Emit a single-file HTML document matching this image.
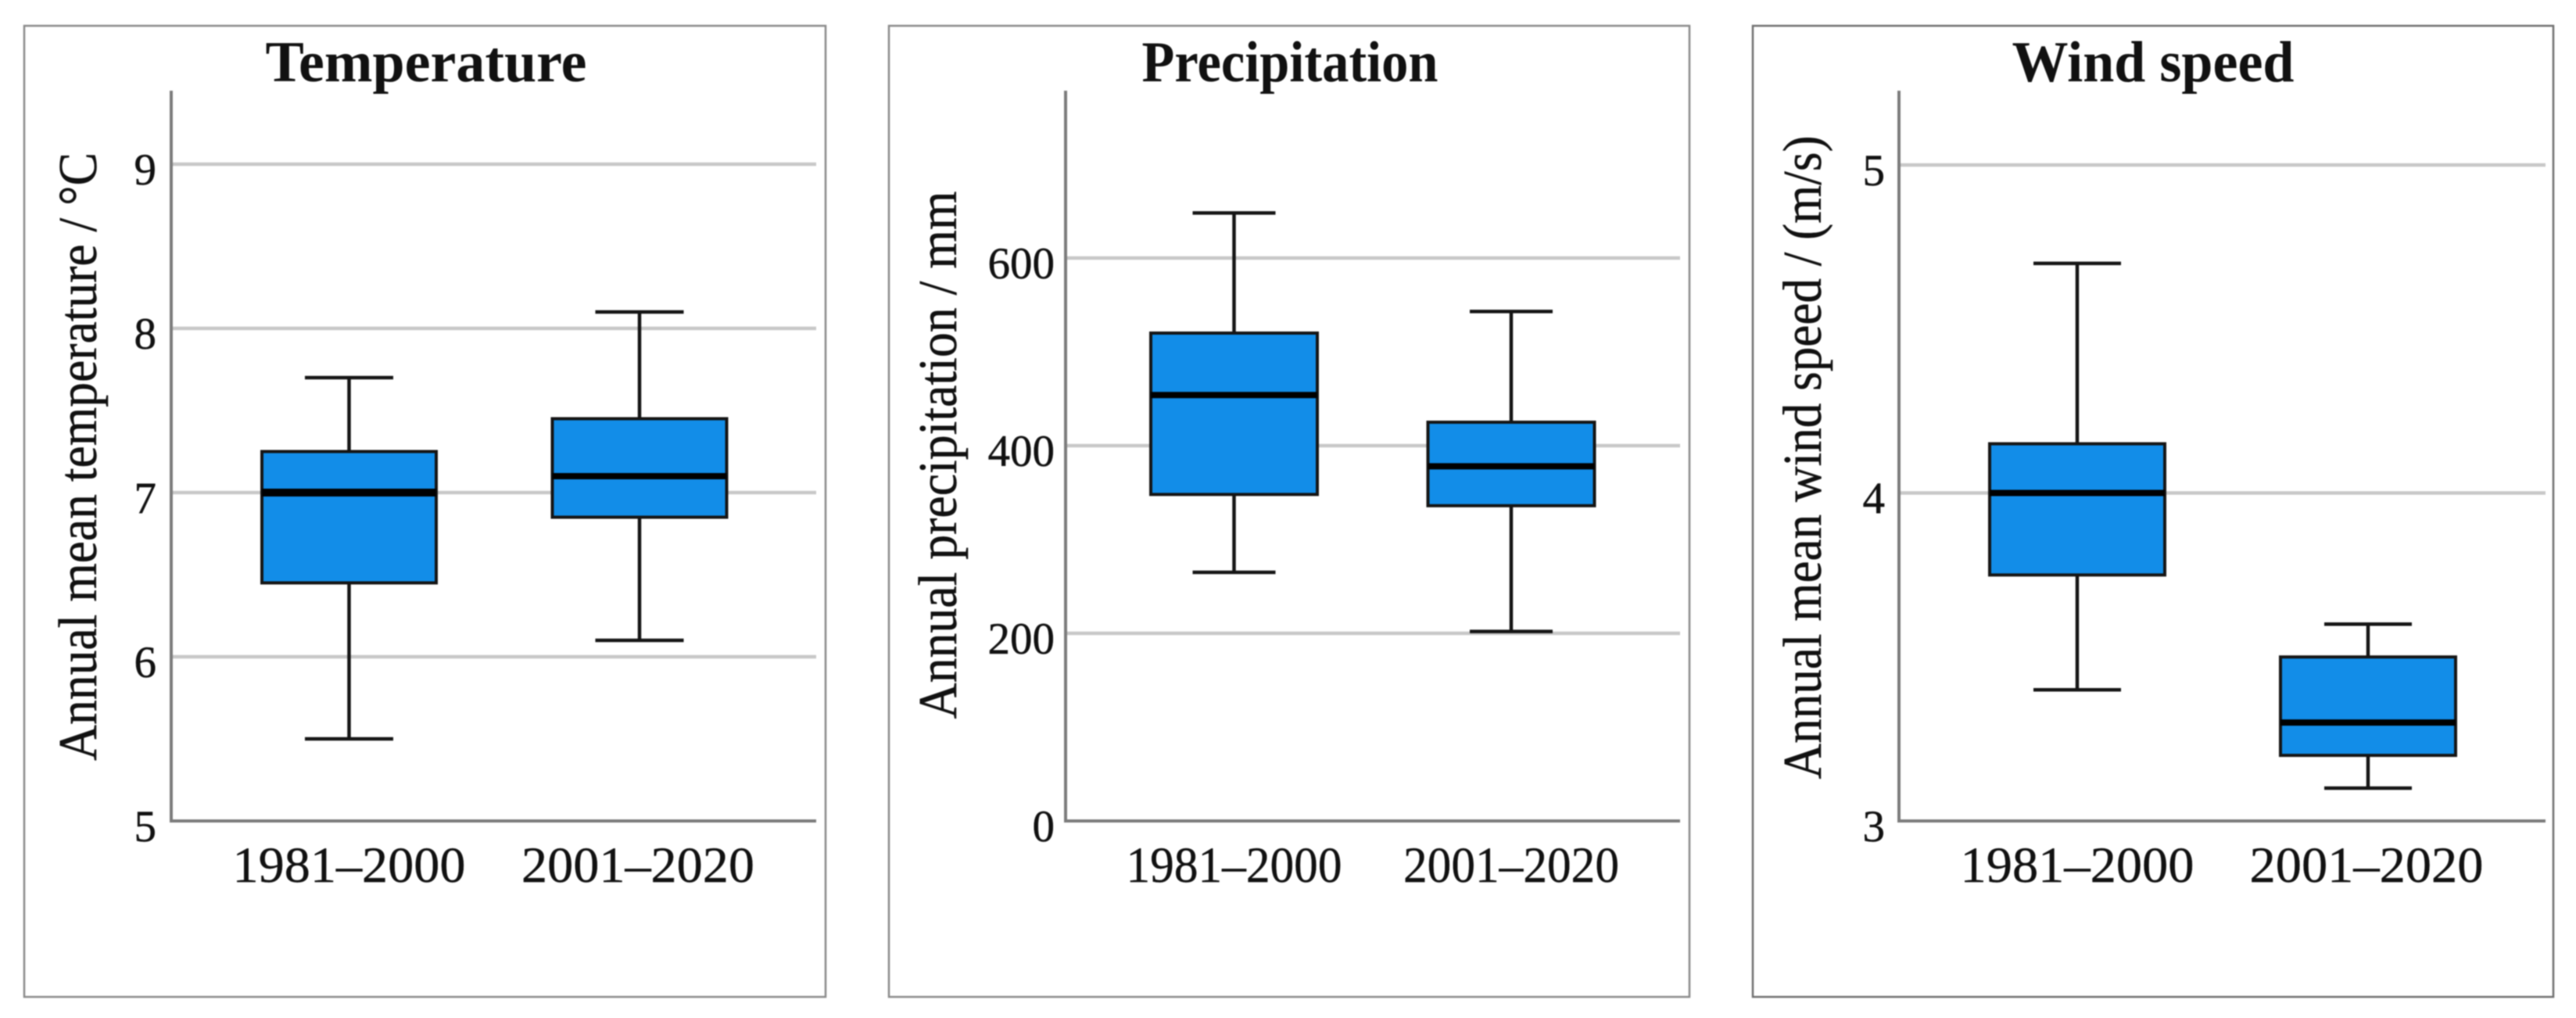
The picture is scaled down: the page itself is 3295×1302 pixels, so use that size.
<!DOCTYPE html>
<html lang="en">
<head>
<meta charset="utf-8">
<title>Temperature, precipitation and wind speed box plots</title>
<style>
  html, body { margin: 0; padding: 0; background: #fff; }
  body { width: 3295px; height: 1302px; overflow: hidden; }
  svg { display: block; filter: blur(0.7px); }
  text { font-family: "Liberation Serif", serif; fill: #111111; }
  .title { font-weight: bold; font-size: 74px; }
  .ylab { font-size: 70px; stroke: #111111; stroke-width: 0.5px; }
  .tick { font-size: 57px; stroke: #111111; stroke-width: 0.5px; }
  .cat { font-size: 65px; stroke: #111111; stroke-width: 0.4px; }
</style>
</head>
<body>
<svg id="figure" width="3295" height="1302" viewBox="0 0 3295 1302" xmlns="http://www.w3.org/2000/svg">
  <rect width="3295" height="1302" fill="#ffffff"/>

  <g id="panel-temp">
    <rect x="31" y="33" width="1025" height="1242" fill="#fff" stroke="#8a8a8a" stroke-width="2.5"/>
    <text class="title" x="545" y="104" text-anchor="middle" textLength="411" lengthAdjust="spacingAndGlyphs">Temperature</text>
    <text class="ylab" transform="translate(123,584) rotate(-90)" text-anchor="middle" textLength="778" lengthAdjust="spacingAndGlyphs">Annual mean temperature / °C</text>
  </g>

  <g id="panel-prec">
    <rect x="1137" y="33" width="1024" height="1242" fill="#fff" stroke="#8a8a8a" stroke-width="2.5"/>
    <text class="title" x="1650" y="104" text-anchor="middle" textLength="379" lengthAdjust="spacingAndGlyphs">Precipitation</text>
    <text class="ylab" transform="translate(1223,582) rotate(-90)" text-anchor="middle" textLength="675" lengthAdjust="spacingAndGlyphs">Annual precipitation / mm</text>
  </g>

  <g id="panel-wind">
    <rect x="2242" y="33" width="1024" height="1242" fill="#fff" stroke="#6f6f6f" stroke-width="2.5"/>
    <text class="title" x="2754" y="104" text-anchor="middle" textLength="361" lengthAdjust="spacingAndGlyphs">Wind speed</text>
    <text class="ylab" transform="translate(2329,585) rotate(-90)" text-anchor="middle" textLength="823" lengthAdjust="spacingAndGlyphs">Annual mean wind speed / (m/s)</text>
  </g>
</svg>

<script>
// ---- chart data ----
const periods = ["1981–2000", "2001–2020"];

const tempTicks = [5, 6, 7, 8, 9];
const tempWhiskerLow = [5.5, 6.1];
const tempQ1 = [6.45, 6.85];
const tempMedian = [7.0, 7.1];
const tempQ3 = [7.25, 7.45];
const tempWhiskerHigh = [7.7, 8.1];

const precTicks = [0, 200, 400, 600];
const precWhiskerLow = [265, 202];
const precQ1 = [348, 336];
const precMedian = [454, 378];
const precQ3 = [520, 425];
const precWhiskerHigh = [648, 543];

const windTicks = [3, 4, 5];
const windWhiskerLow = [3.4, 3.1];
const windQ1 = [3.75, 3.2];
const windMedian = [4.0, 3.3];
const windQ3 = [4.15, 3.5];
const windWhiskerHigh = [4.7, 3.6];

const NS = "http://www.w3.org/2000/svg";

function mk(tag, parent, attrs) {
  const node = document.createElementNS(NS, tag);
  for (const k in attrs) node.setAttribute(k, attrs[k]);
  parent.appendChild(node);
  return node;
}

function drawPanel(panel, s) {
  const g = document.getElementById(panel.id);
  const yScale = v => panel.baseY - (v - panel.domainMin) * panel.pxPerUnit;
  const xScale = i => panel.firstCenter + i * panel.step;

  // gridlines (drawn below boxes); the lowest tick sits on the x axis
  s.ticks.forEach(t => {
    if (t !== panel.domainMin) {
      const grid = mk("line", g, { x1: panel.axisX, x2: panel.axisEnd, y1: yScale(t), y2: yScale(t), stroke: "#c8c8c8", "stroke-width": 4.5 });
      
      
    }
    const label = mk("text", g, { class: "tick", x: panel.tickRight, y: yScale(t) + 26, "text-anchor": "end" });
    label.textContent = t;
    
    
  });

  // axes
  const yAxis = mk("line", g, { x1: panel.axisX, x2: panel.axisX, y1: panel.axisTop, y2: panel.baseY + 2, stroke: "#7c7c7c", "stroke-width": 4 });
  
  
  const xAxis = mk("line", g, { x1: panel.axisX, x2: panel.axisEnd, y1: panel.baseY, y2: panel.baseY, stroke: "#7c7c7c", "stroke-width": 4 });
  
  

  // boxes
  periods.forEach((p, i) => {
    const cx = xScale(i);
    const whisker = mk("line", g, { x1: cx, x2: cx, y1: yScale(s.high[i]), y2: yScale(s.low[i]), stroke: "#151515", "stroke-width": 4.5 });
    
    

    const capHigh = mk("line", g, { x1: cx - panel.capHalf, x2: cx + panel.capHalf, y1: yScale(s.high[i]), y2: yScale(s.high[i]), stroke: "#151515", "stroke-width": 4.5 });
    
    

    const capLow = mk("line", g, { x1: cx - panel.capHalf, x2: cx + panel.capHalf, y1: yScale(s.low[i]), y2: yScale(s.low[i]), stroke: "#151515", "stroke-width": 4.5 });
    
    

    const box = mk("rect", g, { x: cx - panel.boxHalf, width: panel.boxHalf * 2, y: yScale(s.q3[i]), height: yScale(s.q1[i]) - yScale(s.q3[i]), fill: "#128de8", stroke: "#151515", "stroke-width": 4 });
    
    

    const med = mk("line", g, { x1: cx - panel.boxHalf, x2: cx + panel.boxHalf, y1: yScale(s.median[i]), y2: yScale(s.median[i]), stroke: "#000000", "stroke-width": panel.id === "panel-temp" && i === 0 ? 10 : 8 });
    
    

    const cat = mk("text", g, { class: "cat", x: cx + panel.labelShift * i, y: 1128, "text-anchor": "middle", textLength: panel.catLength, lengthAdjust: "spacingAndGlyphs" });
    cat.textContent = p;
    
    
  });
}

drawPanel(
  { id: "panel-temp", baseY: 1050, domainMin: 5, pxPerUnit: 210, axisX: 219, axisEnd: 1044, axisTop: 116, tickRight: 200, firstCenter: 446.5, step: 371.5, boxHalf: 111.5, capHalf: 56.5, labelShift: -2, catLength: 298 },
  { ticks: tempTicks, low: tempWhiskerLow, q1: tempQ1, median: tempMedian, q3: tempQ3, high: tempWhiskerHigh }
);
drawPanel(
  { id: "panel-prec", baseY: 1050, domainMin: 0, pxPerUnit: 1.2, axisX: 1363, axisEnd: 2149, axisTop: 116, tickRight: 1349, firstCenter: 1578.5, step: 354.5, boxHalf: 106.5, capHalf: 53, labelShift: 0, catLength: 276 },
  { ticks: precTicks, low: precWhiskerLow, q1: precQ1, median: precMedian, q3: precQ3, high: precWhiskerHigh }
);
drawPanel(
  { id: "panel-wind", baseY: 1050, domainMin: 3, pxPerUnit: 419.5, axisX: 2429, axisEnd: 3256, axisTop: 116, tickRight: 2411, firstCenter: 2657, step: 372, boxHalf: 112, capHalf: 56, labelShift: -2, catLength: 299 },
  { ticks: windTicks, low: windWhiskerLow, q1: windQ1, median: windMedian, q3: windQ3, high: windWhiskerHigh }
);
</script>
</body>
</html>
